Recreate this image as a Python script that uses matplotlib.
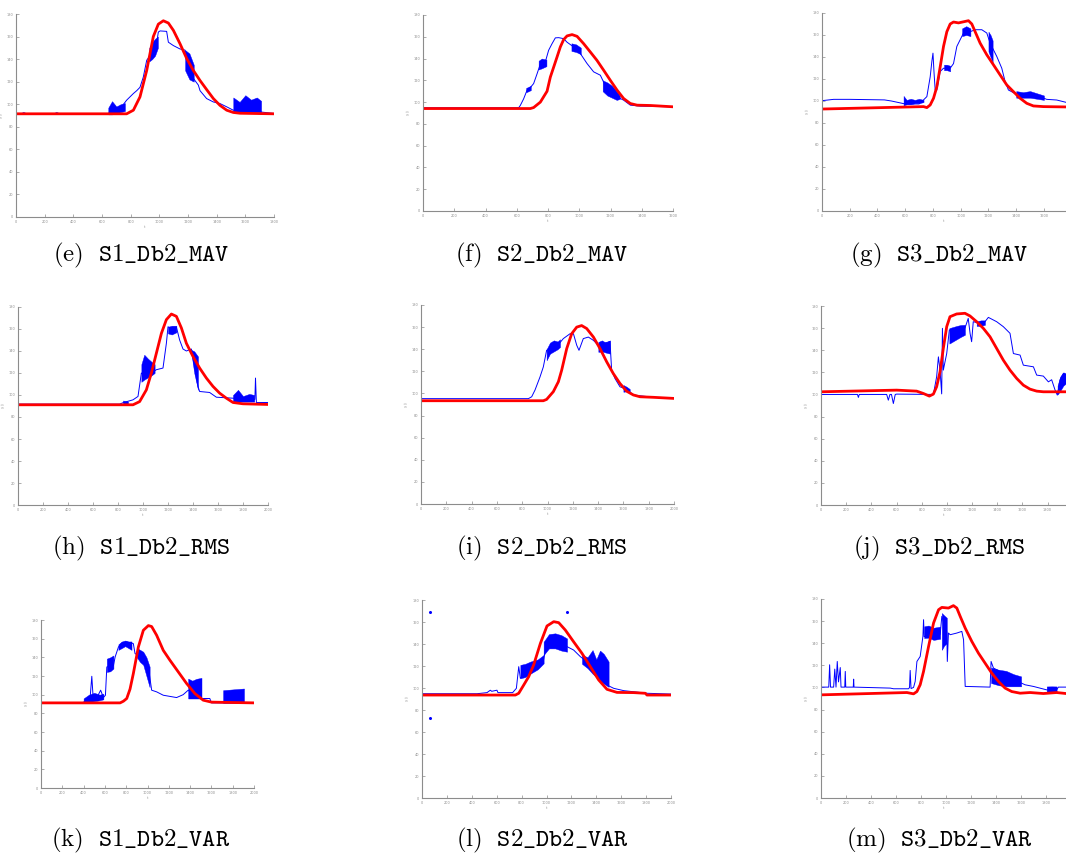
import matplotlib
matplotlib.use("Agg")
import matplotlib.pyplot as plt
import numpy as np

plt.rcParams['mathtext.fontset'] = 'cm'

# ================= 数据 =================
# (e) S1_Db2_MAV
E_RED_X = [0, 772, 819, 865, 912, 958, 993, 1028, 1063, 1098, 1144, 1191, 1237, 1284, 1330, 1377, 1423, 1470, 1516, 1563, 1800]
E_RED_Y = [91.5, 91.5, 94.7, 106.5, 130, 160, 171, 174, 172, 165.5, 153.7, 140.5, 130, 121, 113, 105, 99, 94.7, 92.7, 92, 91.5]
E_BLUE_X = [0, 40, 55, 70, 270, 285, 300, 644, 679, 726, 772, 819, 842, 865, 888, 912, 935, 970, 993, 1005, 1051, 1063, 1098, 1144, 1179, 1202, 1226, 1237, 1272, 1284, 1330, 1377, 1423, 1470, 1516, 1702, 1800]
E_BLUE_Y = [91.7, 91.7, 92.5, 91.7, 91.7, 92.5, 91.7, 91.7, 94.7, 96, 103.6, 109.5, 112, 115, 124, 139, 143, 145, 164, 165, 164.6, 155, 152, 149, 148, 140, 133, 123, 117, 112, 105, 102, 100.6, 97.7, 94.7, 93.2, 91.8]
E_BANDS = [([644, 670, 700, 730, 760], [91, 91, 92, 93, 94], [97, 102.7, 98, 100, 101]),
           ([930, 950, 970, 990], [138, 140, 143, 150], [150, 155, 158, 160]),
           ([1180, 1210, 1240], [130, 122, 120], [148, 145, 135]),
           ([1516, 1560, 1600, 1640, 1680, 1710], [93, 93, 93, 93, 93, 93], [106, 102, 108, 104, 106, 103])]

# (f) S2_Db2_MAV
F_RED_X = [0, 687, 708, 751, 794, 815, 836, 858, 879, 900, 922, 954, 986, 1028, 1071, 1113, 1156, 1199, 1242, 1284, 1327, 1370, 1455, 1600]
F_RED_Y = [94.1, 94.1, 95, 100, 110, 123, 132, 141.5, 150.7, 157.4, 160.8, 162, 160.4, 153.7, 146, 138.4, 129.3, 120, 111, 103.3, 98.7, 97.2, 96.9, 95.7]
F_BLUE_X = [0, 612, 623, 644, 666, 687, 708, 730, 751, 762, 783, 804, 826, 847, 868, 900, 922, 964, 1007, 1050, 1092, 1135, 1167, 1199, 1242, 1284, 1327, 1391, 1600]
F_BLUE_Y = [94.8, 94.8, 97, 103, 111, 113.4, 117, 126, 135, 134, 137, 147.6, 153.7, 159, 159.2, 158.3, 155, 150.7, 144.6, 135.4, 127.8, 124.7, 115, 111, 104.8, 101.8, 97.2, 96.3, 95.7]
F_BANDS = [([660, 690], [109, 111], [113, 115]),
           ([740, 760, 790], [130, 131, 133], [138, 140, 139]),
           ([950, 980, 1010], [147, 146, 144], [154, 153, 150]),
           ([1150, 1180, 1210, 1240, 1260], [110, 106, 104, 102, 103], [120, 118, 115, 110, 106])]

# (g) S3_Db2_MAV
G_RED_X = [0, 732, 756, 780, 804, 828, 852, 876, 900, 924, 948, 984, 1020, 1056, 1080, 1104, 1140, 1188, 1236, 1284, 1332, 1380, 1428, 1476, 1524, 1596, 1759]
G_RED_Y = [92.7, 94.9, 94, 96.4, 102.5, 113, 131, 149.6, 163, 170, 171.8, 171, 172, 173, 170, 163, 152.6, 142, 132.9, 123.7, 114.6, 108.5, 102.5, 97.9, 95.5, 94.9, 94.6]
G_BLUE_X = [0, 84, 200, 450, 500, 600, 700, 732, 756, 780, 792, 800, 808, 816, 828, 852, 876, 924, 948, 972, 996, 1032, 1068, 1104, 1152, 1188, 1212, 1260, 1296, 1320, 1344, 1380, 1428, 1572, 1620, 1692, 1759]
G_BLUE_Y = [100.3, 101.5, 101.5, 101, 100, 97.3, 97.3, 101, 104, 122, 136, 143.5, 125, 110, 110, 126.8, 129.8, 129.8, 134, 149.6, 155.7, 164.8, 163, 164.8, 164.8, 161.8, 152.6, 140.5, 129.8, 117.7, 110, 107.6, 105.5, 104, 101.5, 100.9, 98.8]
G_BANDS = [([588, 610, 640, 670, 700, 732], [96, 97, 97, 98, 98, 99], [104.6, 101, 102, 101, 102, 101]),
           ([880, 900, 924], [128, 128, 127], [133, 133, 132]),
           ([1010, 1040, 1070], [159, 160, 159], [166, 168, 166]),
           ([1200, 1215, 1230], [145, 140, 135], [163, 160, 155]),
           ([1400, 1450, 1500, 1550, 1600], [103, 103, 103, 102, 101], [109, 108, 109, 107, 105])]

# (h) S1_Db2_RMS
H_RED_X = [0, 920, 973, 1027, 1067, 1107, 1147, 1187, 1227, 1267, 1307, 1347, 1400, 1453, 1507, 1560, 1613, 1667, 1720, 1800, 2000]
H_RED_Y = [91.1, 91.1, 94, 104.7, 120, 138, 156, 168.5, 173.6, 171.5, 161, 147, 135, 124.5, 115.4, 107.8, 101.7, 97.1, 93.2, 92, 91.4]
H_BLUE_X = [0, 813, 840, 920, 960, 987, 1027, 1107, 1160, 1187, 1200, 1240, 1267, 1293, 1320, 1347, 1387, 1440, 1453, 1533, 1587, 1720, 1895, 1900, 1907, 2000]
H_BLUE_Y = [91.7, 91.7, 93, 95.6, 98.7, 120, 117, 123, 124.5, 147, 162, 160, 161.8, 150, 141.8, 140, 141.8, 107.8, 103.2, 102.3, 98, 97.1, 96, 115.4, 93.2, 93.2]
H_BANDS = [([840, 880], [91.5, 92], [95, 94]),
           ([987, 1010, 1040, 1070, 1093], [112, 114, 116, 118, 120], [128, 136.6, 133, 130, 128]),
           ([1200, 1230, 1267], [156, 155, 157], [162, 163, 163]),
           ([1387, 1410, 1440], [138, 120, 104.7], [141, 139.7, 135]),
           ([1720, 1760, 1800, 1850, 1890], [94, 94, 94, 94, 94], [100, 104.7, 99, 101, 100])]

# (i) S2_Db2_RMS
I_RED_X = [0, 967, 993, 1046, 1086, 1112, 1152, 1191, 1231, 1270, 1310, 1363, 1415, 1468, 1520, 1573, 1626, 1679, 1731, 1837, 2000]
I_RED_Y = [93.4, 93.4, 94.6, 101.6, 110.6, 121, 140.6, 154, 160, 161.4, 158.7, 151, 140.6, 128.6, 118, 109, 102, 98.6, 97, 96.5, 95.5]
I_BLUE_X = [0, 849, 875, 901, 941, 967, 993, 1046, 1099, 1125, 1178, 1205, 1231, 1249, 1283, 1323, 1363, 1402, 1494, 1507, 1533, 1573, 1626, 1679, 1837, 2000]
I_BLUE_Y = [95.3, 95.3, 97, 103, 115, 124, 139, 142, 146, 149.6, 154, 154, 143.6, 139, 149.6, 151, 148, 143.6, 147, 121, 113.6, 106, 104, 98.6, 96.5, 95.5]
I_BANDS = [([993, 1020, 1050, 1080, 1099], [130, 136, 138, 140, 142], [140, 146, 148, 147, 149]),
           ([1402, 1430, 1460, 1494], [137.6, 138, 137, 136], [146.6, 148, 146, 148]),
           ([1600, 1626, 1650], [101.5, 102, 102], [107.6, 106, 104])]

# (j) S3_Db2_RMS
J_RED_X = [0, 601, 760, 813, 861, 893, 919, 946, 972, 999, 1025, 1078, 1144, 1184, 1237, 1290, 1343, 1396, 1449, 1502, 1555, 1608, 1661, 1714, 1767, 1947]
J_RED_Y = [102.4, 103.9, 103, 100.9, 98.5, 100.3, 107, 120.5, 141.6, 161.3, 170.3, 172.8, 173.4, 171, 165.8, 159.8, 152.2, 141.6, 131, 122, 114.5, 108.4, 104.8, 103, 102.4, 102.4]
J_BLUE_X = [0, 290, 297, 304, 522, 535, 548, 560, 575, 590, 601, 893, 919, 933, 946, 959, 965, 972, 999, 1020, 1144, 1170, 1185, 1197, 1210, 1237, 1303, 1330, 1396, 1449, 1502, 1529, 1582, 1608, 1688, 1714, 1767, 1807, 1833, 1860, 1878, 1900, 1926, 1947]
J_BLUE_Y = [100, 100, 97.3, 100, 100, 94.8, 100, 100, 91.8, 100, 100.3, 100, 116, 134, 122, 100.5, 159.8, 122, 137, 158.3, 160, 168.8, 155, 147.7, 165.8, 165, 165.8, 169.7, 165.8, 161.3, 155.3, 137, 135.6, 126.5, 125, 117.5, 116.6, 111.4, 113.3, 104, 99.4, 113, 119, 116]
J_BANDS = [([1020, 1050, 1080, 1110, 1144], [146, 148, 150, 152, 154], [160, 161, 162, 162.8, 163]),
           ([1237, 1270, 1303], [162, 162, 163], [166, 167, 167]),
           ([1880, 1900, 1926, 1947], [100, 103, 108, 110], [108, 116, 120, 119])]

# (k) S1_Db2_VAR
K_RED_X = [0, 743, 774, 805, 836, 867, 914, 961, 1008, 1039, 1086, 1148, 1210, 1289, 1367, 1445, 1523, 1601, 2000]
K_RED_Y = [91.2, 91.2, 93, 95.9, 106, 122.6, 151, 169, 174, 173, 163.6, 147.5, 137, 124.4, 112, 101.2, 94.1, 92, 91.2]
K_BLUE_X = [0, 384, 420, 460, 477, 490, 530, 560, 586, 605, 618, 680, 696, 727, 758, 805, 867, 883, 914, 961, 1008, 1039, 1086, 1148, 1273, 1335, 1382, 1507, 1585, 1601, 1710, 1906, 2000]
K_BLUE_Y = [91.2, 91.2, 93, 95, 119.7, 96, 98, 104.8, 97, 99.4, 129.7, 131, 140.4, 151, 155.4, 156.5, 154.7, 144, 142.2, 140.4, 129.7, 104.8, 103, 99.4, 96.9, 100, 104.8, 95.9, 95.9, 91.2, 91.2, 91.2, 91.2]
K_BANDS = [([400, 450, 500, 550, 586], [91.5, 92, 93, 94, 95], [96, 100, 102, 100, 101]),
           ([618, 650, 680], [124.4, 125, 128], [138.6, 140, 142]),
           ([727, 760, 790, 820, 850], [148, 150, 152, 150, 148], [154, 157, 158, 157, 157]),
           ([900, 930, 960, 990, 1020], [140, 135, 132, 120, 108], [150, 148, 146, 140, 130]),
           ([1382, 1420, 1460, 1507], [95.9, 95.9, 95.9, 95.9], [117.2, 115, 117, 118]),
           ([1710, 1906], [91.2, 91.2], [104.8, 106.6])]

# (l) S2_Db2_VAR
L_RED_X = [0, 750, 777, 817, 857, 897, 951, 1004, 1058, 1098, 1151, 1218, 1285, 1352, 1419, 1486, 1566, 1700, 1794, 1807, 2000]
L_RED_Y = [93.6, 93.6, 95.2, 102.7, 110.3, 121, 140.6, 156.4, 160.3, 159.4, 152.7, 142, 131.5, 119.4, 107.3, 98.8, 96, 95.8, 95.2, 93.6, 93.6]
L_BLUE_X = [0, 442, 522, 549, 560, 602, 610, 728, 758, 777, 790, 830, 870, 930, 977, 1004, 1050, 1100, 1165, 1218, 1272, 1325, 1379, 1430, 1486, 1540, 1620, 1807, 2000]
L_BLUE_Y = [94.8, 94.8, 95.8, 98, 97, 98, 95.8, 95.8, 99.7, 119.4, 108.8, 113, 117, 121, 126, 142, 145, 143, 137.6, 134.5, 128.5, 124, 114.8, 110, 102.7, 99.7, 97.6, 95.2, 94.5]
L_BANDS = [([790, 830, 870, 930, 977], [108.8, 110, 113, 117, 122.4], [121, 122, 124, 126, 130]),
           ([977, 1020, 1070, 1120, 1165], [130, 136, 136, 134, 133], [142, 149, 149.7, 148, 145]),
           ([1285, 1330, 1370, 1400, 1430, 1460, 1499], [122, 118, 113, 110, 106, 104, 101], [130, 128, 134.5, 126, 134, 131, 124])]
L_OUT_X = [62, 62, 1164]
L_OUT_Y = [169.4, 72.4, 169.4]

# (m) S3_Db2_VAR
M_RED_X = [0, 687, 740, 767, 793, 820, 860, 900, 940, 966, 1019, 1059, 1086, 1113, 1153, 1206, 1259, 1312, 1365, 1419, 1472, 1525, 1592, 1672, 1778, 1884, 1959]
M_RED_Y = [93.3, 95.4, 94.2, 96.3, 102.4, 114.5, 137, 158.3, 170.3, 172.4, 171.8, 174, 171.8, 164.3, 153.7, 141.6, 131, 122, 113, 105.4, 99.4, 96.3, 94.8, 95.4, 94.5, 95.4, 94.5]
M_BLUE_X = [0, 62, 69, 76, 101, 110, 120, 130, 140, 154, 160, 190, 194, 198, 258, 261, 264, 554, 580, 700, 708, 713, 720, 740, 753, 767, 793, 815, 820, 825, 953, 966, 1006, 1010, 1019, 1033, 1086, 1126, 1140, 1153, 1166, 1352, 1360, 1379, 1432, 1485, 1539, 1592, 1632, 1699, 1805, 1884, 1898, 1959]
M_BLUE_Y = [100.3, 100.3, 120.5, 100.3, 100.3, 116.6, 100.3, 123.5, 105, 118, 100.3, 100.3, 114.5, 100.3, 100.3, 107.5, 100.3, 99.4, 98.8, 98.8, 100, 115.4, 99, 100, 105.4, 123.5, 128, 146.2, 161.3, 146, 148, 164.3, 150, 123.5, 149.2, 147.7, 149.2, 150.7, 143, 100.9, 100.9, 100.3, 123.5, 117.5, 114.5, 110, 107.5, 104.5, 102.4, 100.9, 97.8, 97.8, 100.3, 100.3]
M_BANDS = [([825, 860, 900, 953], [144.7, 145, 143, 144], [155.3, 156, 154, 155]),
           ([966, 986, 1006], [134, 138, 140], [167.3, 165, 163]),
           ([1360, 1420, 1480, 1540, 1600], [104, 102, 101, 101, 101], [118, 116, 115, 112, 110]),
           ([1805, 1845, 1884], [96.3, 96, 96.3], [100.9, 101, 100.9])]

CAPTIONS = ['(e)', '(f)', '(g)', '(h)', '(i)', '(j)', '(k)', '(l)', '(m)']
NAMES = ['S1_Db2_MAV', 'S2_Db2_MAV', 'S3_Db2_MAV',
         'S1_Db2_RMS', 'S2_Db2_RMS', 'S3_Db2_RMS',
         'S1_Db2_VAR', 'S2_Db2_VAR', 'S3_Db2_VAR']

# ================= 版面 (像素位置: left, right, top, bottom) =================
W, H = 1066, 860
BOXES = [(16, 274, 14, 217), (423, 673, 15, 211), (822, 1066, 13, 211),
         (18, 268, 307, 505), (421, 674, 305, 504), (821, 1066, 306, 505),
         (41, 254, 620, 788), (422, 671, 600, 798), (821, 1066, 599, 798)]
XMAX = [1800, 1600, 1759, 2000, 2000, 1947, 2000, 2000, 1959]
XTICK_MAX = [1800, 1600, 1600, 2000, 2000, 1800, 2000, 2000, 1800]
CAP_X = [141, 542, 939, 141, 542, 939, 141, 542, 939]
CAP_Y = [255, 255, 255, 548, 548, 548, 840, 840, 840]

PANELS = [(E_RED_X, E_RED_Y, E_BLUE_X, E_BLUE_Y, E_BANDS),
          (F_RED_X, F_RED_Y, F_BLUE_X, F_BLUE_Y, F_BANDS),
          (G_RED_X, G_RED_Y, G_BLUE_X, G_BLUE_Y, G_BANDS),
          (H_RED_X, H_RED_Y, H_BLUE_X, H_BLUE_Y, H_BANDS),
          (I_RED_X, I_RED_Y, I_BLUE_X, I_BLUE_Y, I_BANDS),
          (J_RED_X, J_RED_Y, J_BLUE_X, J_BLUE_Y, J_BANDS),
          (K_RED_X, K_RED_Y, K_BLUE_X, K_BLUE_Y, K_BANDS),
          (L_RED_X, L_RED_Y, L_BLUE_X, L_BLUE_Y, L_BANDS),
          (M_RED_X, M_RED_Y, M_BLUE_X, M_BLUE_Y, M_BANDS)]

fig = plt.figure(figsize=(W / 100, H / 100), dpi=100)
GRAY = '#8c8c8c'

for i, (rx, ry, bx, by, bands) in enumerate(PANELS):
    l, r, t, b = BOXES[i]
    ax = fig.add_axes([l / W, 1 - b / H, (r - l) / W, (b - t) / H])

    # 蓝色: 实际信号 (细线 + 高频振荡区域)
    ax.plot(bx, by, color='blue', lw=0.7)
    for xs, lo, hi in bands:
        ax.fill_between(xs, lo, hi, color='blue', lw=0.3)
    if i == 7:
        ax.plot(L_OUT_X, L_OUT_Y, 'o', color='blue', ms=1.2)
    # 红色: 预测曲线
    ax.plot(rx, ry, color='red', lw=2.0)

    ax.set_xlim(0, XMAX[i])
    ax.set_ylim(0, 180)
    ax.set_xticks(np.arange(0, XTICK_MAX[i] + 1, 200))
    ax.set_yticks(np.arange(0, 181, 20))
    ax.tick_params(direction='in', length=2.5, width=0.5, colors=GRAY,
                   labelsize=2.5, pad=2)
    for s in ['top', 'right']:
        ax.spines[s].set_visible(False)
    for s in ['left', 'bottom']:
        ax.spines[s].set_color(GRAY)
        ax.spines[s].set_linewidth(0.8)
    ax.set_xlabel('t', fontsize=2.5, color=GRAY, labelpad=1)
    ax.set_ylabel(r'$y,\hat{y}$', fontsize=2.5, color=GRAY)
    # y 轴标签放在轴线左侧约 10 像素处, 避免被图边裁掉
    ax.yaxis.set_label_coords(-10 / (r - l), 0.5)

    name = NAMES[i].replace('_', r'\_')
    fig.text(CAP_X[i] / W, 1 - CAP_Y[i] / H,
             r'$\mathrm{' + CAPTIONS[i] + r'}\ \ \mathtt{' + name + '}$',
             ha='center', va='center', fontsize=18)

fig.savefig('out.png', dpi=100)
